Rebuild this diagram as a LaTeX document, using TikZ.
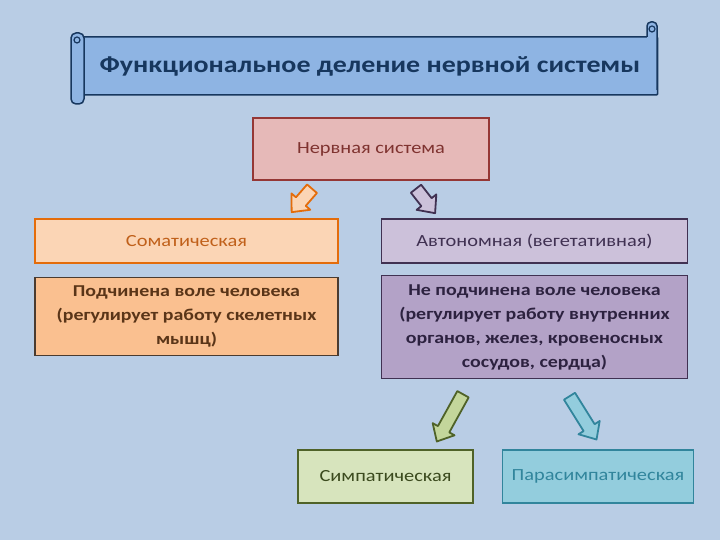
\documentclass[tikz,border=0pt]{standalone}
\usepackage{fontspec}
\setmainfont{Carlito}[FakeStretch=1.2]
\usetikzlibrary{positioning,calc}
\definecolor{bgblue}{HTML}{B9CDE5}
\definecolor{navy}{HTML}{17375E}
\definecolor{scrollfill}{HTML}{8EB4E3}
\definecolor{nervfill}{HTML}{E6B9B8}
\definecolor{nervline}{HTML}{953735}
\definecolor{nervtext}{HTML}{7F3330}
\definecolor{somafill}{HTML}{FBD5B5}
\definecolor{somaline}{HTML}{E46C0A}
\definecolor{somatext}{HTML}{C0601A}
\definecolor{soma2fill}{HTML}{FAC090}
\definecolor{soma2line}{HTML}{4A3B30}
\definecolor{soma2text}{HTML}{5A3518}
\definecolor{autofill}{HTML}{CCC1DA}
\definecolor{autoline}{HTML}{403152}
\definecolor{auto2fill}{HTML}{B3A2C7}
\definecolor{auto2text}{HTML}{2D2240}
\definecolor{sympfill}{HTML}{D7E4BD}
\definecolor{sympline}{HTML}{4F6228}
\definecolor{symptext}{HTML}{3B4A1E}
\definecolor{sympdark}{HTML}{C3D69B}
\definecolor{parafill}{HTML}{93CDDD}
\definecolor{paraline}{HTML}{31859C}
\tikzset{
  box/.style    ={draw, line width=1.5pt, align=center, inner sep=2pt,
                  font=\fontsize{17}{24}\selectfont},
  nervbox/.style={box, fill=nervfill, draw=nervline, text=nervtext,
                  minimum width=236pt, minimum height=62pt},
  somabox/.style={box, fill=somafill, draw=somaline, text=somatext,
                  minimum width=303pt, minimum height=44pt},
  autobox/.style={box, fill=autofill, draw=autoline, text=autoline,
                  minimum width=306pt, minimum height=44pt},
  sbox/.style   ={box, font=\fontsize{16.6}{24}\selectfont\bfseries},
  symbox/.style ={box, fill=sympfill, draw=sympline, text=symptext,
                  minimum width=175pt, minimum height=53pt},
  parbox/.style ={box, fill=parafill, draw=paraline, text=paraline,
                  minimum width=191pt, minimum height=53pt},
  arw/.style    ={line width=1.8pt, line join=round},
  pics/barrow/.style={code={
    \path[pic actions] (0,-6.5) -- ({#1-14},-6.5) -- ({#1-14},-12.5) -- (#1,0)
      -- ({#1-14},12.5) -- ({#1-14},6.5) -- (0,6.5) -- cycle;}},
}
\begin{document}
\begin{tikzpicture}[x=1pt, y=1pt]
\fill[bgblue] (0,0) rectangle (720,540);
% scroll title
\node[draw=navy, fill=scrollfill, line width=1.5pt, minimum width=575pt, minimum height=58pt,
      rounded corners=1pt, text=navy, font=\fontsize{23.3}{28}\selectfont\bfseries] (title)
      at (370,474) {Функциональное деление нервной системы};
\draw[navy, fill=scrollfill, line width=1.5pt, rounded corners=5pt]
  (71,436) rectangle (84,507);
\draw[navy, line width=1.2pt] (77,500) circle (3pt);
\draw[navy, fill=scrollfill, line width=1.5pt, rounded corners=4pt]
  (647,503) -- (647,518) -- (657,518) -- (657,450);
\draw[navy, line width=1.2pt] (652,511) circle (3pt);
% boxes
\node[nervbox] (nerv) at (371,391) {Нервная система};
\node[somabox] (soma) at (186.5,299) {Соматическая};
\node[autobox] (auto) at (534.5,299) {Автономная (вегетативная)};
\node[sbox, fill=soma2fill, draw=soma2line, text=soma2text,
      minimum width=303pt, minimum height=78pt, below=13pt of soma] (soma2)
      {Подчинена воле человека\\(регулирует работу скелетных\\мышц)};
\node[sbox, fill=auto2fill, draw=autoline, text=auto2text,
      minimum width=306pt, minimum height=103pt, below=11pt of auto] (auto2)
      {Не подчинена воле человека\\(регулирует работу внутренних\\органов, желез, кровеносных\\сосудов, сердца)};
\node[symbox] (symp) at (385.5,63.5) {Симпатическая};
\node[parbox, right=28pt of symp] (para) {Парасимпатическая};
% block arrows
\pic[arw, fill=somafill, draw=somaline, rotate=229] at ($(nerv.south)+(-59,-8)$) {barrow=31};
\pic[arw, fill=autofill, draw=autoline, rotate=-52] at ($(nerv.south)+(45,-8)$) {barrow=31};
\pic[arw, fill=sympdark, draw=sympline, rotate=241] at ($(symp.north)+(77.5,55)$) {barrow=54};
\pic[arw, fill=parafill, draw=paraline, rotate=-58] at ($(para.north)+(-28.5,53)$) {barrow=51};
\end{tikzpicture}
\end{document}
